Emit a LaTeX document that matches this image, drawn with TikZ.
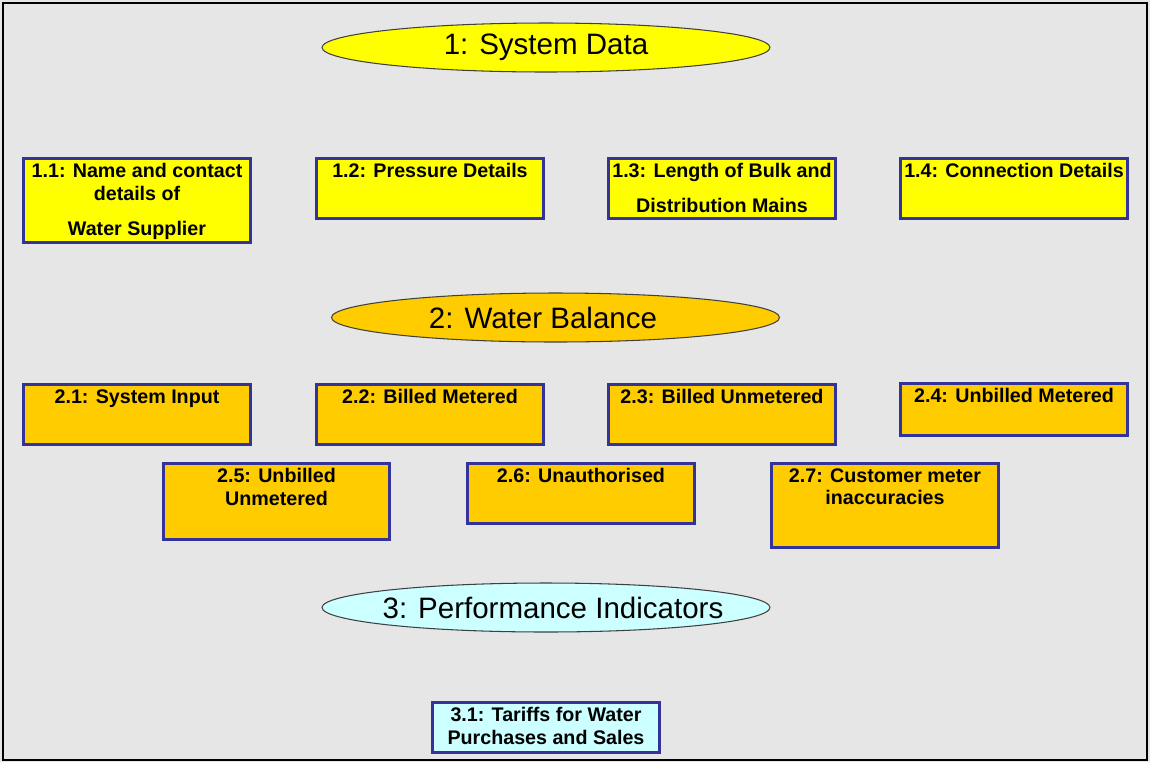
\documentclass[tikz,border=0pt]{standalone}
\usepackage{fontspec}
\setmainfont{Liberation Sans}
\usetikzlibrary{shapes.geometric}
\definecolor{panelgrey}{HTML}{E6E6E6}
\definecolor{framenavy}{HTML}{333399}
\definecolor{datayellow}{HTML}{FFFF00}
\definecolor{balanceorange}{HTML}{FFCC00}
\definecolor{indicatorcyan}{HTML}{CCFFFF}
% heading text, centred with a sideways nudge (#1 = twice the nudge)
\newcommand{\headtext}[2]{\makebox[0pt]{\hspace*{#1}#2}}
\tikzset{
  section/.style={ellipse, draw=black!75, line width=0.6pt,
                  minimum width=8.96cm, minimum height=0.98cm, inner sep=0pt,
                  font=\fontsize{16.8}{20}\selectfont},
  itembox/.style={draw=framenavy, line width=1.7pt, minimum width=4.54cm, inner sep=0pt},
  itemtext/.style={anchor=north, inner sep=3.4pt, align=center,
                   font=\fontsize{11.2}{13}\selectfont\bfseries}
}
\begin{document}
\begin{tikzpicture}[x=0.02cm, y=-0.02cm]
  % backdrop and frame
  \fill[panelgrey] (0,0) rectangle (1150,762);
  \draw[line width=1.2pt] (3,3) rectangle (1147,760);

  % section headings
  \node[section, fill=datayellow] (sysdata) at (546,47.5) {\headtext{0cm}{1: System Data}};
  \node[section, fill=balanceorange] (waterbal) at (555.5,317.5) {\headtext{-0.5cm}{2: Water Balance}};
  \node[section, fill=indicatorcyan] (perfind) at (546,607.5) {\headtext{0.28cm}{3: Performance Indicators}};

  % 1: system data
  \foreach \n/\x/\y/\h/\lbl in {11/137/200.5/84/{1.1: Name and contact\\details of\\[6.8pt]Water Supplier},
                               12/430/188.5/60/{1.2: Pressure Details},
                               13/722/188.5/60/{1.3: Length of Bulk and\\[6.8pt]Distribution Mains},
                               14/1014/188.5/60/{1.4: Connection Details}}{
    \node[itembox, fill=datayellow, minimum height=\h*0.02cm,
          label={[itemtext]north:{\lbl}}] (sd\n) at (\x,\y) {};
  }

  % 2: water balance
  \foreach \n/\x/\y/\h/\lbl in {21/137/414.5/60/{2.1: System Input},
                               22/430/414.5/60/{2.2: Billed Metered},
                               23/722/414.5/60/{2.3: Billed Unmetered},
                               24/1014/409.5/52/{2.4: Unbilled Metered},
                               25/276.5/501.5/76/{2.5: Unbilled\\Unmetered},
                               26/581/493.5/60/{2.6: Unauthorised},
                               27/885/505.5/84/{2.7: Customer meter\\inaccuracies}}{
    \node[itembox, fill=balanceorange, minimum height=\h*0.02cm,
          label={[itemtext]north:{\lbl}}] (wb\n) at (\x,\y) {};
  }

  % 3: performance indicators
  \node[itembox, fill=indicatorcyan, minimum height=50*0.02cm,
        label={[itemtext]north:{3.1: Tariffs for Water\\Purchases and Sales}}] (pi31) at (546,727.5) {};
\end{tikzpicture}
\end{document}
